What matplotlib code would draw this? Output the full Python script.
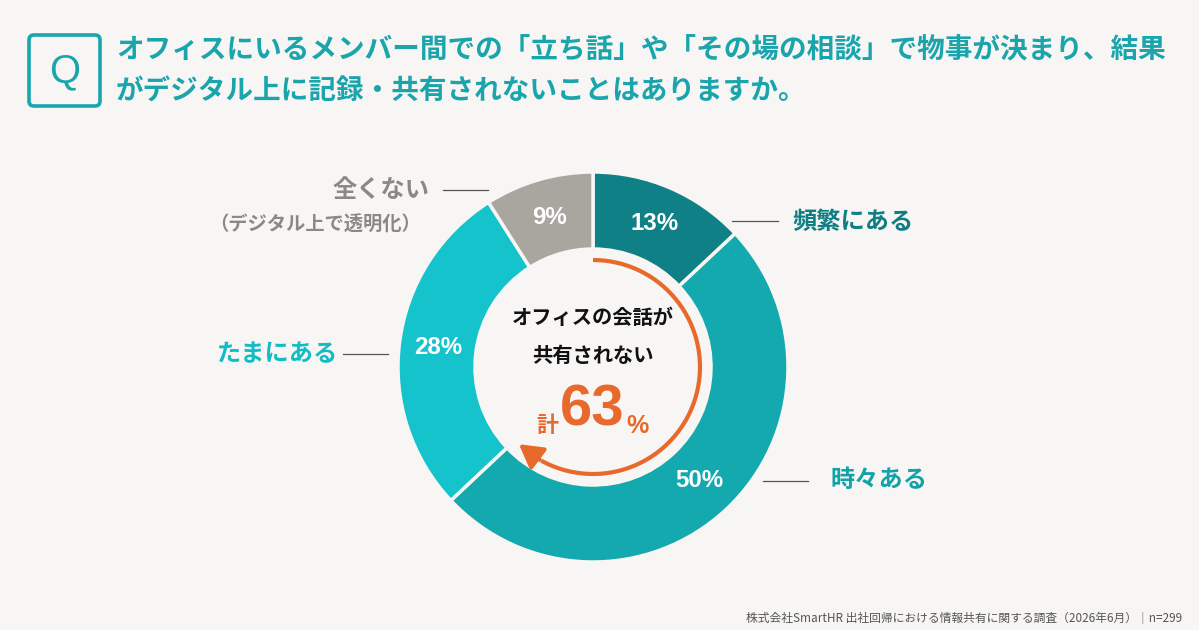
import numpy as np
import matplotlib
matplotlib.use("Agg")
import matplotlib.pyplot as plt
from matplotlib.patches import FancyBboxPatch

plt.rcParams['font.family'] = ['Noto Sans CJK JP', 'DejaVu Sans']

# ---- data ----
categories = ["頻繁にある", "時々ある", "たまにある", "全くない"]
values = [13, 50, 28, 9]
colors = ["#0f8085", "#13a9af", "#14c3cb", "#a9a59f"]
label_colors = ["#0f7f84", "#13a2a8", "#13bcc4", "#8c8985"]
total_not_shared = 63
title_lines = ["オフィスにいるメンバー間での「立ち話」や「その場の相談」で物事が決まり、結果",
               "がデジタル上に記録・共有されないことはありますか。"]
sub_label = "（デジタル上で透明化）"
center_lines = ["オフィスの会話が", "共有されない"]
footer = "株式会社SmartHR 出社回帰における情報共有に関する調査（2026年6月）｜n=299"

W, H = 1199, 630
BG = "#f7f6f4"
TEAL = "#1aa5ac"
ORANGE = "#e8692c"

fig = plt.figure(figsize=(W / 100, H / 100), dpi=100, facecolor=BG)
ax = fig.add_axes([0, 0, 1, 1])
ax.set_facecolor(BG)

def Y(py):
    return H - py

def fs(px):
    return px * 0.72

# ---- donut ----
cx, cy = 593, Y(367)
R_out, width = 195, 77
wedges, _, autotexts = ax.pie(values, colors=colors, startangle=90, counterclock=False,
                              center=(cx, cy), radius=R_out, autopct='%d%%', pctdistance=0.8,
                              wedgeprops=dict(width=width, edgecolor=BG, linewidth=2.5),
                              textprops=dict(color='white', fontsize=fs(24), fontweight='bold',
                                             family=['Liberation Sans', 'DejaVu Sans']))
ax.set_xlim(0, W)
ax.set_ylim(0, H)
ax.set_aspect('equal')
ax.axis('off')

# ---- title ----
ax.add_patch(FancyBboxPatch((29, Y(106)), 71, 71, boxstyle="round,pad=0,rounding_size=5",
                            fc="none", ec=TEAL, lw=2.6))
ax.text(64.5, Y(71), "Q", color=TEAL, fontsize=fs(40), ha='center', va='center',
        family=['Liberation Sans', 'DejaVu Sans'])
ax.text(116, Y(50), title_lines[0], color=TEAL, fontsize=fs(27.6), fontweight='bold',
        ha='left', va='center')
ax.text(116, Y(92), title_lines[1], color=TEAL, fontsize=fs(27.6), fontweight='bold',
        ha='left', va='center')

# ---- outer labels ----
label_pos = [
    (792, 222, 'left', 732, 778, 221),
    (830, 480, 'left', 763, 808, 481),
    (338, 354, 'right', 343, 388, 354),
    (430, 190, 'right', 443, 488, 190),
]
for cat, col, (tx, ty, ha, lx0, lx1, ly) in zip(categories, label_colors, label_pos):
    ax.text(tx, Y(ty), cat, color=col, fontsize=fs(24.2), fontweight='bold', ha=ha, va='center')
    ax.plot([lx0, lx1], [Y(ly), Y(ly)], color="#555555", lw=0.9)
ax.text(421, Y(225), sub_label, color=label_colors[3], fontsize=fs(19.3), fontweight='bold',
        ha='right', va='center')

# ---- orange arrow arc ----
r_arc = 107
start = 90
tip = 90 - total_not_shared * 3.6 + 3
line_end = tip + 14
theta = np.radians(np.linspace(start, line_end + 1, 200))
ax.plot(cx + r_arc * np.cos(theta), cy + r_arc * np.sin(theta), color=ORANGE, lw=3.0,
        solid_capstyle='butt')
t_end = np.radians(tip)
t_tail = np.radians(line_end)
ax.annotate("", xy=(cx + r_arc * np.cos(t_end), cy + r_arc * np.sin(t_end)),
            xytext=(cx + r_arc * np.cos(t_tail), cy + r_arc * np.sin(t_tail)),
            arrowprops=dict(arrowstyle="-|>,head_length=1.4,head_width=0.8", color=ORANGE,
                            lw=3.0, shrinkA=0, shrinkB=0))

# ---- center text ----
ax.text(593, Y(317), center_lines[0], color="#111111", fontsize=fs(20.3), fontweight='bold',
        ha='center', va='center')
ax.text(593, Y(355), center_lines[1], color="#111111", fontsize=fs(20.3), fontweight='bold',
        ha='center', va='center')
ax.text(558, Y(425), "計", color=ORANGE, fontsize=fs(22), fontweight='bold', ha='right',
        va='center')
ax.text(592, Y(410), f"{total_not_shared}", color=ORANGE, fontsize=fs(58), fontweight='bold',
        ha='center', va='center', family=['Liberation Sans', 'DejaVu Sans'])
ax.text(626, Y(426), "%", color=ORANGE, fontsize=fs(25), fontweight='bold', ha='left',
        va='center', family=['Liberation Sans', 'DejaVu Sans'])

# ---- footer ----
ax.text(1182, Y(619), footer, color="#555555", fontsize=fs(11.8), ha='right', va='center')

fig.savefig("out.png", dpi=100, facecolor=BG)
